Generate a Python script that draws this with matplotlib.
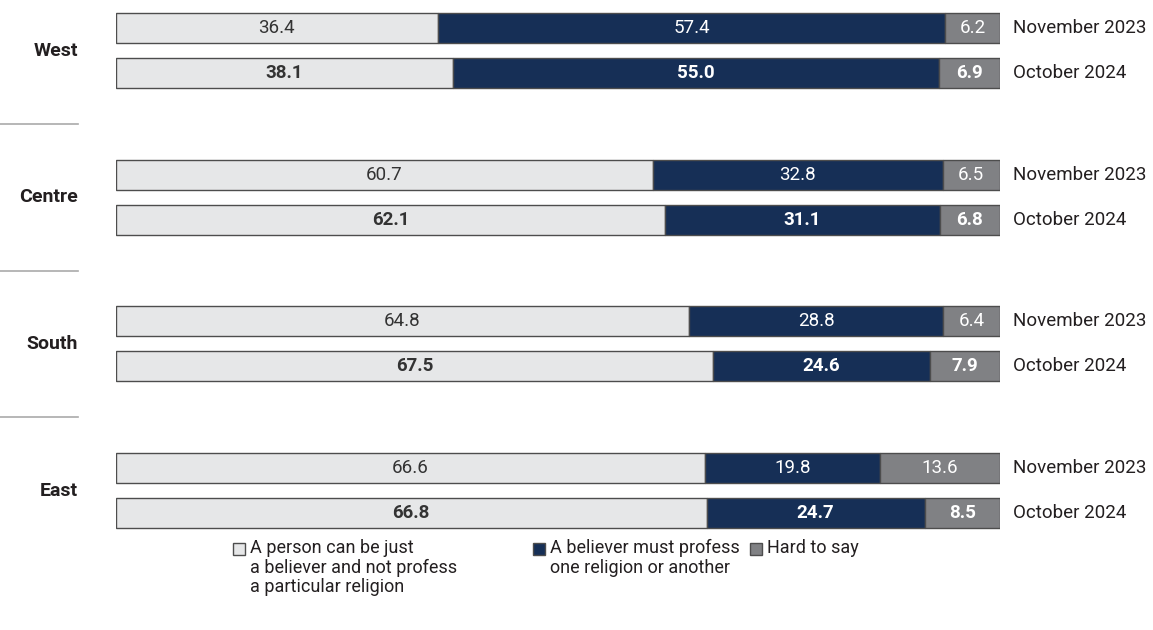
import numpy as np
import matplotlib.pyplot as plt
from matplotlib.transforms import blended_transform_factory
from matplotlib.patches import Rectangle

plt.rcParams['font.family'] = ['Roboto', 'DejaVu Sans']

# data
regions = ['West', 'Centre', 'South', 'East']
waves = ['November 2023', 'October 2024']
just_believer = [[36.4, 38.1], [60.7, 62.1], [64.8, 67.5], [66.6, 66.8]]
one_religion = [[57.4, 55.0], [32.8, 31.1], [28.8, 24.6], [19.8, 24.7]]
hard_to_say = [[6.2, 6.9], [6.5, 6.8], [6.4, 7.9], [13.6, 8.5]]
legend_labels = ['A person can be just\na believer and not profess\na particular religion',
                 'A believer must profess\none religion or another',
                 'Hard to say']

colors = ['#e6e7e8', '#162f56', '#808184']
text_colors = ['#333333', 'white', 'white']
edge = '#4d4d4d'
ink = '#231f20'

W, H = 1153, 630
fig = plt.figure(figsize=(W / 100, H / 100), dpi=100)
# bars span 116..1000 px horizontally, 0..540 px vertically
ax = fig.add_axes([116 / W, 90 / H, 884 / W, 540 / H])
ax.set_xlim(0, 100)
ax.set_ylim(512 / 45, -28 / 45)
ax.axis('off')

group_step = 3.26
bar_h = 0.667
tr = blended_transform_factory(fig.transFigure, ax.transData)

for i, reg in enumerate(regions):
    for j, wave in enumerate(waves):
        y = i * group_step + j
        vals = [just_believer[i][j], one_religion[i][j], hard_to_say[i][j]]
        left = 0
        for k, v in enumerate(vals):
            ax.barh(y, v, left=left, height=bar_h, color=colors[k],
                    edgecolor=edge, linewidth=1.0)
            ax.text(left + v / 2, y, f'{v:.1f}', ha='center', va='center',
                    color=text_colors[k], fontsize=13.5,
                    fontweight='bold' if j == 1 else 'normal')
            left += v
        ax.text(101.5, y, wave, ha='left', va='center', fontsize=13.5,
                color=ink)
    ax.text(78 / W, i * group_step + 0.5, reg, transform=tr, ha='right',
            va='center', fontsize=14, fontweight='bold', color=ink)
    if i < len(regions) - 1:
        yl = i * group_step + 1 + (group_step - 1) / 2
        ax.plot([0, 78 / W], [yl, yl], transform=tr, color='#aaaaaa',
                lw=1.2, clip_on=False)

# legend
leg_x = [233, 533, 750]
for k, lab in enumerate(legend_labels):
    x0 = leg_x[k]
    fig.patches.append(Rectangle((x0 / W, 1 - 555 / H), 12 / W, 12 / H,
                                 transform=fig.transFigure, facecolor=colors[k],
                                 edgecolor=edge, linewidth=1.0))
    fig.text((x0 + 17) / W, 1 - 539 / H, lab, ha='left', va='top',
             fontsize=13, color=ink, linespacing=1.12)

fig.savefig('out.png', dpi=100)
